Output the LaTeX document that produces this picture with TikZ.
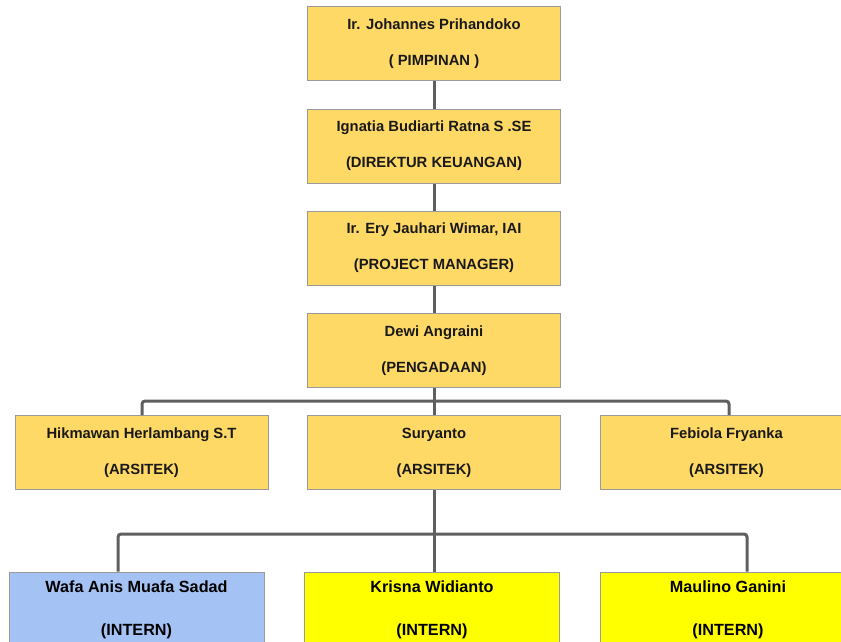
\documentclass[tikz,border=0pt]{standalone}
\usepackage{fontspec}
\setmainfont{Liberation Sans}

\definecolor{gold}{HTML}{FFD966}
\definecolor{sky}{HTML}{A4C2F4}
\definecolor{lemon}{HTML}{FFFF00}
\definecolor{wire}{HTML}{5F5F5F}
\definecolor{rim}{HTML}{9A9A9A}

\begin{document}
\begin{tikzpicture}[x=1pt,y=-1pt]
    \useasboundingbox (0,0) rectangle (841,642);
    \clip (0,0) rectangle (841,642);
    \begin{scope}[every node/.style={rectangle,draw=rim,line width=1pt,fill=gold,minimum width=253pt,minimum height=74pt,inner sep=0pt,align=center,text=black!90,font=\bfseries\fontsize{14.8pt}{36pt}\selectfont}]
        \node (pim) at (434,44) {Ir. Johannes Prihandoko\\( PIMPINAN )};
        \node (dir) at (434,146) {Ignatia Budiarti Ratna S .SE\\(DIREKTUR KEUANGAN)};
        \node (pm) at (434,248) {Ir. Ery Jauhari Wimar, IAI\\(PROJECT MANAGER)};
        \node (pgd) at (434,350.5) {Dewi Angraini\\(PENGADAAN)};
        \node (hik) at (141.5,452.5) {Hikmawan Herlambang S.T\\(ARSITEK)};
        \node (sur) at (434,452.5) {Suryanto\\(ARSITEK)};
        \node (feb) at (726.5,452.5) {Febiola Fryanka\\(ARSITEK)};
    \end{scope}
    \begin{scope}[every node/.style={rectangle,draw=rim,line width=1pt,minimum width=255pt,minimum height=75pt,inner sep=0pt,align=center,text=black,font=\bfseries\fontsize{16.2pt}{43pt}\selectfont}]
        \node[fill=sky] (wafa) at (136.5,609.5) {Wafa Anis Muafa Sadad\\(INTERN)};
        \node[fill=lemon] (kri) at (432,609.5) {Krisna Widianto\\(INTERN)};
        \node[fill=lemon] (mau) at (728,609.5) {Maulino Ganini\\(INTERN)};
    \end{scope}
    \coordinate (busA) at ([yshift=-13pt]pgd.south);
    \coordinate (busB) at ([yshift=-44pt]sur.south);
    \begin{scope}[every path/.style={draw=wire,line width=3pt,rounded corners=3pt}]
        \draw (pim.south) -- (dir.north);
        \draw (dir.south) -- (pm.north);
        \draw (pm.south) -- (pgd.north);
        \draw (pgd.south) -- (sur.north);
        \draw (busA) -| ([xshift=0.5pt]hik.north);
        \draw (busA) -| ([xshift=2.5pt]feb.north);
        \draw (sur.south) -- (sur.south |- kri.north);
        \draw (busB) -| ([xshift=-18.5pt]wafa.north);
        \draw (busB) -| ([xshift=19pt]mau.north);
    \end{scope}
\end{tikzpicture}
\end{document}
